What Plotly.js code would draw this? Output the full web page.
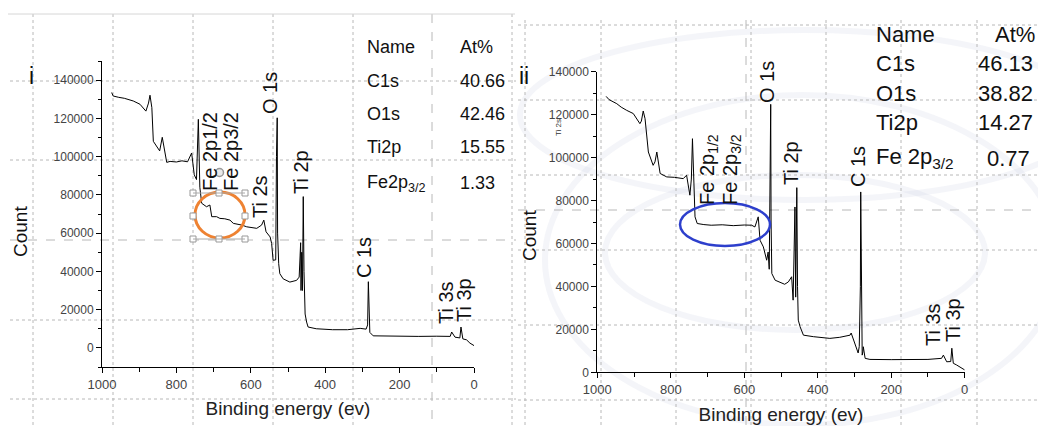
<!DOCTYPE html>
<html>
<head>
<meta charset="utf-8">
<script src="https://cdn.plot.ly/plotly-3.0.1.min.js"></script>
<style>html,body{margin:0;padding:0;background:#fff}#chart{width:1038px;height:426px}</style>
</head>
<body>
<div id="chart"></div>
<script>
// ---------- data ----------
const leftEnergy = [974,970,955,940,916,898,882,875,871,866,862,853,845,838,831,826,817,800,785,770,759,752,746,741,737,732,719,710,705,692,683,670,656,647,624,611,584,571,565,559,548,544,540,533,531,529,528,525,522,513,495,477,470,466,465,463,461,459,457,454,450,446,424,380,340,306,290,286,284,282,280,271,200,150,100,64,60,55,51,38,35,30,20,11,0];
const leftCount  = [133500,131700,131000,130500,129100,127400,123800,128000,132100,125600,108000,105400,103000,110100,102600,97000,97500,97200,97800,97300,101900,90500,88000,119500,84000,75600,73800,74700,68600,68600,67700,67500,66800,65100,64200,63300,62500,64200,66800,60700,58000,54600,45800,46000,100000,120300,60000,44000,38800,36100,34400,35300,37000,55000,30000,50000,30000,79100,40000,17700,13500,10900,10000,9500,9500,10200,9800,12000,34600,12000,8100,6300,6000,6000,6100,6000,8300,6500,5600,5200,10900,4700,4200,2500,1200];

const rightEnergy = [976,968,947,935,920,902,884,880,875,870,861,848,843,838,829,811,790,766,757,748,744,741,734,728,710,690,660,630,600,580,571,566,562,557,548,539,535,532,530,528,527,525,516,498,490,480,471,467,465,462,460,457,455,453,448,439,412,367,340,312,309,295,290,287,284,283,281,279,277,276,271,258,200,150,100,63,58,49,38,35,31,22,13,0];
const rightCount  = [128500,127000,125100,123500,122000,120500,115800,117000,121700,118100,102600,96400,98000,102600,92600,91000,90800,90200,91800,82500,90000,108800,72400,69300,68800,68500,68700,68300,68600,68500,67700,70800,72400,61500,58400,52200,56000,48000,91000,124800,70000,46000,42900,41400,41000,42100,44500,33600,50000,77000,35000,86000,40000,24300,21200,17300,16600,15800,16300,17300,18300,11300,9000,12000,40000,84000,30000,8000,9600,11900,6500,6000,5900,5900,6000,6500,8000,4900,5000,11200,4200,3400,2600,1100];

const yTicksLeft  = [0,20000,40000,60000,80000,100000,120000,140000];
const yTicksRight = [0,20000,40000,60000,80000,100000,120000,140000];
const xTicks = [1000,800,600,400,200,0];

const tableNames = ["C1s","O1s","Ti2p","Fe2p<sub>3/2</sub>"];
const tableNamesRight = ["C1s","O1s","Ti2p","Fe 2p<sub>3/2</sub>"];
const atLeft  = ["40.66","42.46","15.55","1.33"];
const atRight = ["46.13","38.82","14.27","0.77"];

const peakLabelsLeft  = ["Fe 2p1/2","Fe 2p3/2","Ti 2s","O 1s","Ti 2p","C 1s","Ti 3s","Ti 3p"];
const peakLabelsRight = ["Fe 2p<sub>1/2</sub>","Fe 2p<sub>3/2</sub>","O 1s","Ti 2p","C 1s","Ti 3s","Ti 3p"];

// ---------- layout helpers (pixel -> paper) ----------
const W = 1038, H = 426;
const P = x => x / W;
const Q = y => 1 - y / H;
const FONT = "Liberation Sans, Arial, sans-serif";
const GRID = '#b8b8b8';

const traces = [
  {x: leftEnergy, y: leftCount, xaxis: 'x', yaxis: 'y', mode: 'lines',
   line: {color: '#000', width: 1}, hoverinfo: 'skip'},
  {x: rightEnergy, y: rightCount, xaxis: 'x2', yaxis: 'y2', mode: 'lines',
   line: {color: '#000', width: 1}, hoverinfo: 'skip'}
];

function xAxis(domain, anchor) {
  return {
    domain: domain, anchor: anchor, range: [1000, 0], autorange: false,
    tickvals: xTicks, ticks: 'outside', ticklen: 5, tickcolor: '#000', tickwidth: 1,
    minor: {dtick: 100, tick0: 0, ticks: 'outside', ticklen: 4, tickcolor: '#000'},
    showline: true, linecolor: '#000', linewidth: 1, showgrid: false, zeroline: false,
    tickfont: {family: FONT, size: 13, color: '#444'},
    title: {text: 'Binding energy (ev)', font: {family: FONT, size: 19, color: '#222'}, standoff: 11}
  };
}
function yAxis(domain, anchor, range, ticks) {
  return {
    domain: domain, anchor: anchor, range: range, autorange: false,
    tickvals: ticks, tickformat: 'd', ticks: 'outside', ticklen: 5, tickcolor: '#000', tickwidth: 1,
    minor: {dtick: 10000, tick0: 0, ticks: 'outside', ticklen: 3, tickcolor: '#000'},
    showline: true, linecolor: '#000', linewidth: 1, showgrid: false, zeroline: false,
    tickfont: {family: FONT, size: 12, color: '#444'}
  };
}

const shapes = [];
// page overlay grid (dotted), left picture
[33,113,193,273,353,432,512].forEach(x => shapes.push({type:'line', xref:'paper', yref:'paper',
  x0:P(x), x1:P(x), y0:Q(14), y1:Q(426), line:{color:GRID, width:1, dash: x===432?'dash':'dot'}, layer:'below'}));
[81,160,240,320,399].forEach(y => shapes.push({type:'line', xref:'paper', yref:'paper',
  x0:P(10), x1:P(516), y0:Q(y), y1:Q(y), line:{color:GRID, width:1, dash: y===240?'dash':'dot'}, layer:'below'}));
shapes.push({type:'line', xref:'paper', yref:'paper', x0:P(8), x1:P(515), y0:Q(14), y1:Q(14), line:{color:'#d6d6d6', width:1}, layer:'below'});
// right picture: faint swirl watermark
[
  [605, 175, 985, 330],
  [545, 95, 1060, 425],
  [520, 30, 1090, 200]
].forEach(e => shapes.push({type:'circle', xref:'paper', yref:'paper', x0:P(e[0]), x1:P(e[2]), y0:Q(e[1]), y1:Q(e[3]),
  line:{color:'rgba(205,208,226,0.22)', width:6}, layer:'below'}));
// right picture grid
[525,601,676,751,826,901,977].forEach(x => shapes.push({type:'line', xref:'paper', yref:'paper',
  x0:P(x), x1:P(x), y0:Q(20), y1:Q(426), line:{color:GRID, width:1, dash:'dot'}, layer:'below'}));
shapes.push({type:'line', xref:'paper', yref:'paper', x0:P(746), x1:P(746), y0:Q(20), y1:Q(426), line:{color:GRID, width:1, dash:'dash'}, layer:'below'});
[25,100,175,250,325,400].forEach(y => shapes.push({type:'line', xref:'paper', yref:'paper',
  x0:P(518), x1:P(1038), y0:Q(y), y1:Q(y), line:{color:GRID, width:1, dash:'dot'}, layer:'below'}));
shapes.push({type:'line', xref:'paper', yref:'paper', x0:P(518), x1:P(1038), y0:Q(210), y1:Q(210), line:{color:GRID, width:1, dash:'dash'}, layer:'below'});

// orange circle with selection handles (left)
shapes.push({type:'circle', xref:'paper', yref:'paper', x0:P(195), x1:P(245), y0:Q(192), y1:Q(238), line:{color:'#ee8232', width:3}});
const hx = [193,219,245], hy = [193,216,239];
hx.forEach(x => hy.forEach(y => {
  if (x===219 && y===216) return;
  shapes.push({type:'rect', xref:'paper', yref:'paper', x0:P(x-3), x1:P(x+3), y0:Q(y-3), y1:Q(y+3),
    line:{color:'#999', width:1}, fillcolor:'#fff'});
}));
shapes.push({type:'line', xref:'paper', yref:'paper', x0:P(193), x1:P(245), y0:Q(193), y1:Q(193), line:{color:'#aaa', width:1}});
shapes.push({type:'line', xref:'paper', yref:'paper', x0:P(193), x1:P(245), y0:Q(239), y1:Q(239), line:{color:'#aaa', width:1}});
shapes.push({type:'circle', xref:'paper', yref:'paper', x0:P(215.5), x1:P(223.5), y0:Q(168.5), y1:Q(176.5), line:{color:'#999', width:1.5}, fillcolor:'rgba(220,220,220,0.6)'});
// blue ellipse (right)
shapes.push({type:'circle', xref:'paper', yref:'paper', x0:P(680), x1:P(770), y0:Q(203), y1:Q(246), line:{color:'#2d3fcc', width:2.5}});

const annotations = [];
function txt(text, x, y, size, opts) {
  annotations.push(Object.assign({text: text, xref:'paper', yref:'paper', x:P(x), y:Q(y), showarrow:false,
    xanchor:'center', yanchor:'middle', font:{family:FONT, size:size, color:'#111'}}, opts || {}));
}
// panel labels
txt('i', 31, 76, 23);
txt('ii', 524, 76, 23);
// y titles
txt('Count', 20, 232, 19, {textangle:-90});
txt('Count', 529, 236, 19, {textangle:-90});
// peak labels left
const leftPos = [[210,152],[231,152],[260,197],[270,93],[301,172],[364,258],[446,303],[464,300]];
peakLabelsLeft.forEach((t,i) => txt(t, leftPos[i][0], leftPos[i][1], 20, {textangle:-90}));
// peak labels right
const rightPos = [[708,170],[731,170],[767,82],[791,163],[858,167],[933,325],[953,320]];
peakLabelsRight.forEach((t,i) => txt(t, rightPos[i][0], rightPos[i][1], 20, {textangle:-90}));
txt('Ti 2s', 558, 128, 8, {textangle:-90, font:{family:FONT, size:8, color:'#333'}});
// tables
txt('Name', 365, 47, 18, {xanchor:'left'});
txt('At%', 458, 47, 18, {xanchor:'left'});
const leftRowY = [81,114,147,183];
tableNames.forEach((t,i) => txt(t, 365, leftRowY[i], 18, {xanchor:'left'}));
atLeft.forEach((t,i) => txt(t, 458, leftRowY[i], 18, {xanchor:'left'}));
txt('Name', 874, 35, 22, {xanchor:'left'});
txt('At%', 993, 35, 22, {xanchor:'left'});
const rightRowY = [64,94,122,158];
const rightValX = [976,976,976,985];
tableNamesRight.forEach((t,i) => txt(t, 874, rightRowY[i], 22, {xanchor:'left'}));
atRight.forEach((t,i) => txt(t, rightValX[i], rightRowY[i], 22, {xanchor:'left'}));

const layout = {
  width: W, height: H, margin: {l:0, r:0, t:0, b:0},
  paper_bgcolor: '#fff', plot_bgcolor: 'rgba(0,0,0,0)', showlegend: false,
  font: {family: FONT},
  xaxis: xAxis([102/W, 474/W], 'y'),
  yaxis: yAxis([1-367/H, 1-61/H], 'x', [-10000, 150000], yTicksLeft),
  xaxis2: xAxis([597.3/W, 964.7/W], 'y2'),
  yaxis2: yAxis([1-372.3/H, 1-71.7/H], 'x2', [0, 140000], yTicksRight),
  shapes: shapes, annotations: annotations
};

Plotly.newPlot('chart', traces, layout, {displayModeBar: false, staticPlot: true});
</script>
</body>
</html>
